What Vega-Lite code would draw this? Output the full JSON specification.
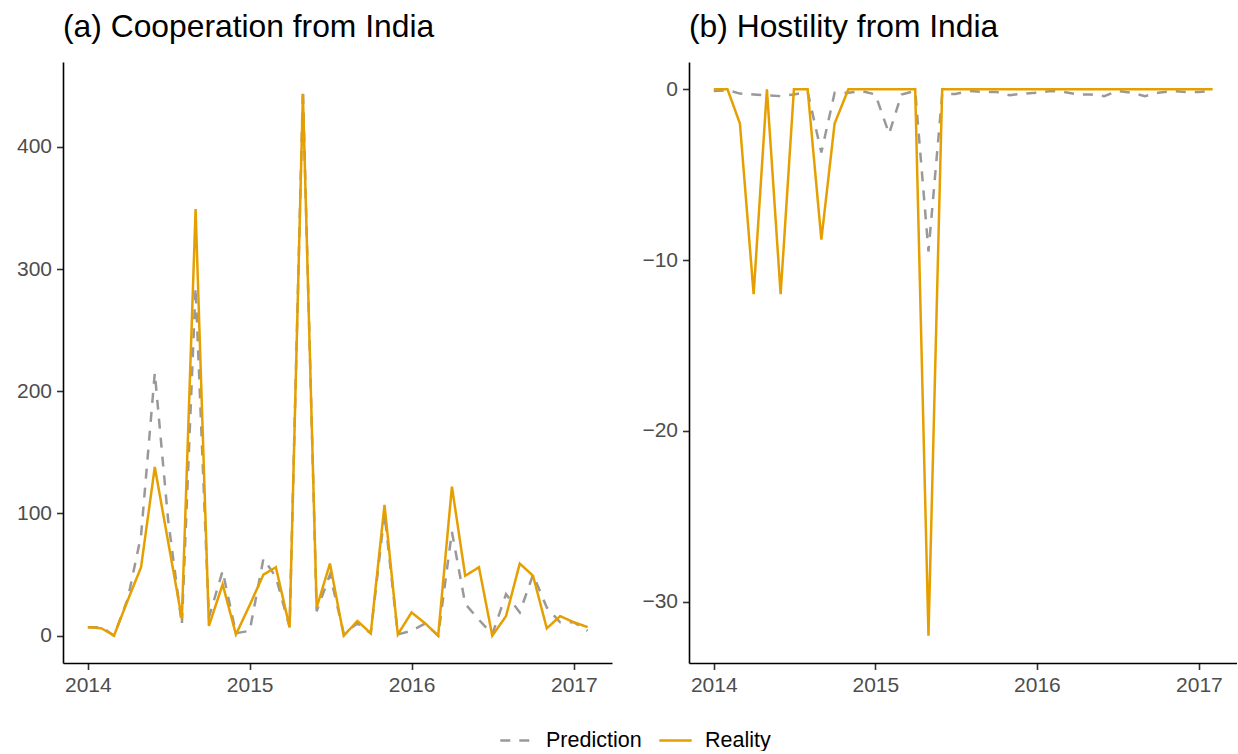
{
  "$schema": "https://vega.github.io/schema/vega-lite/v6.json",
  "background": "white",
  "padding": {"left": 13, "top": 12, "right": 0, "bottom": 0},
  "spacing": 27,
  "config": {
    "font": "Liberation Sans",
    "view": {"stroke": null},
    "axis": {"grid": false, "domainColor": "black", "domainWidth": 1.6, "tickColor": "#333333", "tickWidth": 1.6, "tickSize": 6.5, "labelFontSize": 21, "labelColor": "#4D4D4D", "labelPadding": 5, "title": null},
    "title": {"fontSize": 31.8, "fontWeight": "normal", "anchor": "start", "frame": "group", "color": "black", "offset": 18},
    "legend": {"orient": "none", "legendX": 436, "legendY": 661, "direction": "horizontal", "title": null, "labelFontSize": 21.5, "labelColor": "black", "symbolType": "stroke", "symbolSize": 1050, "symbolStrokeWidth": 2.5, "columnPadding": 12, "labelOffset": 12}
  },
  "datasets": {
    "coop": [
      {"d":"2014-01-01","s":"Prediction","v":7},{"d":"2014-02-01","s":"Prediction","v":7},{"d":"2014-03-01","s":"Prediction","v":0},{"d":"2014-04-01","s":"Prediction","v":30},{"d":"2014-05-01","s":"Prediction","v":82},{"d":"2014-06-01","s":"Prediction","v":215},{"d":"2014-07-01","s":"Prediction","v":95},{"d":"2014-08-01","s":"Prediction","v":9},{"d":"2014-09-01","s":"Prediction","v":285},{"d":"2014-10-01","s":"Prediction","v":15},{"d":"2014-11-01","s":"Prediction","v":53},{"d":"2014-12-01","s":"Prediction","v":2},
      {"d":"2015-01-01","s":"Prediction","v":4},{"d":"2015-02-01","s":"Prediction","v":63},{"d":"2015-03-01","s":"Prediction","v":48},{"d":"2015-04-01","s":"Prediction","v":7},{"d":"2015-05-01","s":"Prediction","v":447},{"d":"2015-06-01","s":"Prediction","v":20},{"d":"2015-07-01","s":"Prediction","v":50},{"d":"2015-08-01","s":"Prediction","v":2},{"d":"2015-09-01","s":"Prediction","v":10},{"d":"2015-10-01","s":"Prediction","v":2},{"d":"2015-11-01","s":"Prediction","v":100},{"d":"2015-12-01","s":"Prediction","v":1},
      {"d":"2016-01-01","s":"Prediction","v":4},{"d":"2016-02-01","s":"Prediction","v":10},{"d":"2016-03-01","s":"Prediction","v":0},{"d":"2016-04-01","s":"Prediction","v":85},{"d":"2016-05-01","s":"Prediction","v":26},{"d":"2016-06-01","s":"Prediction","v":13},{"d":"2016-07-01","s":"Prediction","v":1},{"d":"2016-08-01","s":"Prediction","v":34},{"d":"2016-09-01","s":"Prediction","v":19},{"d":"2016-10-01","s":"Prediction","v":50},{"d":"2016-11-01","s":"Prediction","v":23},{"d":"2016-12-01","s":"Prediction","v":11},
      {"d":"2017-01-01","s":"Prediction","v":11},{"d":"2017-02-01","s":"Prediction","v":4},
      {"d":"2014-01-01","s":"Reality","v":7},{"d":"2014-02-01","s":"Reality","v":6},{"d":"2014-03-01","s":"Reality","v":0},{"d":"2014-04-01","s":"Reality","v":29},{"d":"2014-05-01","s":"Reality","v":56},{"d":"2014-06-01","s":"Reality","v":138},{"d":"2014-07-01","s":"Reality","v":77},{"d":"2014-08-01","s":"Reality","v":14},{"d":"2014-09-01","s":"Reality","v":349},{"d":"2014-10-01","s":"Reality","v":8},{"d":"2014-11-01","s":"Reality","v":42},{"d":"2014-12-01","s":"Reality","v":1},
      {"d":"2015-01-01","s":"Reality","v":25},{"d":"2015-02-01","s":"Reality","v":50},{"d":"2015-03-01","s":"Reality","v":56},{"d":"2015-04-01","s":"Reality","v":7},{"d":"2015-05-01","s":"Reality","v":443},{"d":"2015-06-01","s":"Reality","v":23},{"d":"2015-07-01","s":"Reality","v":59},{"d":"2015-08-01","s":"Reality","v":0},{"d":"2015-09-01","s":"Reality","v":12},{"d":"2015-10-01","s":"Reality","v":2},{"d":"2015-11-01","s":"Reality","v":107},{"d":"2015-12-01","s":"Reality","v":1},
      {"d":"2016-01-01","s":"Reality","v":19},{"d":"2016-02-01","s":"Reality","v":10},{"d":"2016-03-01","s":"Reality","v":0},{"d":"2016-04-01","s":"Reality","v":122},{"d":"2016-05-01","s":"Reality","v":49},{"d":"2016-06-01","s":"Reality","v":56},{"d":"2016-07-01","s":"Reality","v":0},{"d":"2016-08-01","s":"Reality","v":16},{"d":"2016-09-01","s":"Reality","v":59},{"d":"2016-10-01","s":"Reality","v":49},{"d":"2016-11-01","s":"Reality","v":6},{"d":"2016-12-01","s":"Reality","v":16},
      {"d":"2017-01-01","s":"Reality","v":11},{"d":"2017-02-01","s":"Reality","v":7}
    ],
    "host": [
      {"d":"2014-01-01","s":"Prediction","v":-0.1},{"d":"2014-02-01","s":"Prediction","v":-0.05},{"d":"2014-03-01","s":"Prediction","v":-0.25},{"d":"2014-04-01","s":"Prediction","v":-0.3},{"d":"2014-05-01","s":"Prediction","v":-0.35},{"d":"2014-06-01","s":"Prediction","v":-0.4},{"d":"2014-07-01","s":"Prediction","v":-0.3},{"d":"2014-08-01","s":"Prediction","v":-0.15},{"d":"2014-09-01","s":"Prediction","v":-3.7},{"d":"2014-10-01","s":"Prediction","v":-0.2},{"d":"2014-11-01","s":"Prediction","v":-0.2},{"d":"2014-12-01","s":"Prediction","v":-0.1},
      {"d":"2015-01-01","s":"Prediction","v":-0.3},{"d":"2015-02-01","s":"Prediction","v":-2.6},{"d":"2015-03-01","s":"Prediction","v":-0.3},{"d":"2015-04-01","s":"Prediction","v":-0.1},{"d":"2015-05-01","s":"Prediction","v":-9.5},{"d":"2015-06-01","s":"Prediction","v":-0.3},{"d":"2015-07-01","s":"Prediction","v":-0.27},{"d":"2015-08-01","s":"Prediction","v":-0.1},{"d":"2015-09-01","s":"Prediction","v":-0.15},{"d":"2015-10-01","s":"Prediction","v":-0.15},{"d":"2015-11-01","s":"Prediction","v":-0.35},{"d":"2015-12-01","s":"Prediction","v":-0.25},
      {"d":"2016-01-01","s":"Prediction","v":-0.2},{"d":"2016-02-01","s":"Prediction","v":-0.1},{"d":"2016-03-01","s":"Prediction","v":-0.15},{"d":"2016-04-01","s":"Prediction","v":-0.3},{"d":"2016-05-01","s":"Prediction","v":-0.3},{"d":"2016-06-01","s":"Prediction","v":-0.4},{"d":"2016-07-01","s":"Prediction","v":-0.1},{"d":"2016-08-01","s":"Prediction","v":-0.2},{"d":"2016-09-01","s":"Prediction","v":-0.4},{"d":"2016-10-01","s":"Prediction","v":-0.2},{"d":"2016-11-01","s":"Prediction","v":-0.1},{"d":"2016-12-01","s":"Prediction","v":-0.15},
      {"d":"2017-01-01","s":"Prediction","v":-0.15},{"d":"2017-02-01","s":"Prediction","v":-0.1},
      {"d":"2014-01-01","s":"Reality","v":0},{"d":"2014-02-01","s":"Reality","v":0},{"d":"2014-03-01","s":"Reality","v":-2},{"d":"2014-04-01","s":"Reality","v":-12},{"d":"2014-05-01","s":"Reality","v":0},{"d":"2014-06-01","s":"Reality","v":-12},{"d":"2014-07-01","s":"Reality","v":0},{"d":"2014-08-01","s":"Reality","v":0},{"d":"2014-09-01","s":"Reality","v":-8.8},{"d":"2014-10-01","s":"Reality","v":-2},{"d":"2014-11-01","s":"Reality","v":0},{"d":"2014-12-01","s":"Reality","v":0},
      {"d":"2015-01-01","s":"Reality","v":0},{"d":"2015-02-01","s":"Reality","v":0},{"d":"2015-03-01","s":"Reality","v":0},{"d":"2015-04-01","s":"Reality","v":0},{"d":"2015-05-01","s":"Reality","v":-32},{"d":"2015-06-01","s":"Reality","v":0},{"d":"2015-07-01","s":"Reality","v":0},{"d":"2015-08-01","s":"Reality","v":0},{"d":"2015-09-01","s":"Reality","v":0},{"d":"2015-10-01","s":"Reality","v":0},{"d":"2015-11-01","s":"Reality","v":0},{"d":"2015-12-01","s":"Reality","v":0},
      {"d":"2016-01-01","s":"Reality","v":0},{"d":"2016-02-01","s":"Reality","v":0},{"d":"2016-03-01","s":"Reality","v":0},{"d":"2016-04-01","s":"Reality","v":0},{"d":"2016-05-01","s":"Reality","v":0},{"d":"2016-06-01","s":"Reality","v":0},{"d":"2016-07-01","s":"Reality","v":0},{"d":"2016-08-01","s":"Reality","v":0},{"d":"2016-09-01","s":"Reality","v":0},{"d":"2016-10-01","s":"Reality","v":0},{"d":"2016-11-01","s":"Reality","v":0},{"d":"2016-12-01","s":"Reality","v":0},
      {"d":"2017-01-01","s":"Reality","v":0},{"d":"2017-02-01","s":"Reality","v":0}
    ]
  },
  "hconcat": [
    {
      "title": "(a) Cooperation from India",
      "width": 549,
      "height": 601,
      "data": {"name": "coop"},
      "encoding": {
        "x": {"field": "d", "type": "temporal", "scale": {"type": "utc", "domain": [{"year": 2013, "month": 11, "date": 6, "utc": true}, {"year": 2017, "month": 3, "date": 28, "utc": true}]}, "axis": {"tickCount": {"interval": "year", "step": 1}, "format": "%Y", "formatType": "utc", "labelFlush": false}},
        "y": {"field": "v", "type": "quantitative", "scale": {"domain": [-22.35, 469.4], "nice": false, "zero": false}, "axis": {"values": [0, 100, 200, 300, 400], "minExtent": 50, "maxExtent": 50}},
        "color": {"field": "s", "type": "nominal", "scale": {"domain": ["Prediction", "Reality"], "range": ["#999999", "#E69F00"]}},
        "strokeDash": {"field": "s", "type": "nominal", "scale": {"domain": ["Prediction", "Reality"], "range": [[10, 9], [1, 0]]}}
      },
      "layer": [
        {"transform": [{"filter": "datum.s == 'Prediction'"}], "mark": {"type": "line", "strokeWidth": 2.5}},
        {"transform": [{"filter": "datum.s == 'Reality'"}], "mark": {"type": "line", "strokeWidth": 2.5}}
      ]
    },
    {
      "title": "(b) Hostility from India",
      "width": 548,
      "height": 601,
      "data": {"name": "host"},
      "encoding": {
        "x": {"field": "d", "type": "temporal", "scale": {"type": "utc", "domain": [{"year": 2013, "month": 11, "date": 6, "utc": true}, {"year": 2017, "month": 3, "date": 28, "utc": true}]}, "axis": {"tickCount": {"interval": "year", "step": 1}, "format": "%Y", "formatType": "utc", "labelFlush": false}},
        "y": {"field": "v", "type": "quantitative", "scale": {"domain": [-33.6, 1.6], "nice": false, "zero": false}, "axis": {"values": [-30, -20, -10, 0], "minExtent": 50, "maxExtent": 50}},
        "color": {"field": "s", "type": "nominal", "scale": {"domain": ["Prediction", "Reality"], "range": ["#999999", "#E69F00"]}},
        "strokeDash": {"field": "s", "type": "nominal", "scale": {"domain": ["Prediction", "Reality"], "range": [[10, 9], [1, 0]]}}
      },
      "layer": [
        {"transform": [{"filter": "datum.s == 'Prediction'"}], "mark": {"type": "line", "strokeWidth": 2.5}},
        {"transform": [{"filter": "datum.s == 'Reality'"}], "mark": {"type": "line", "strokeWidth": 2.5}}
      ]
    }
  ]
}
